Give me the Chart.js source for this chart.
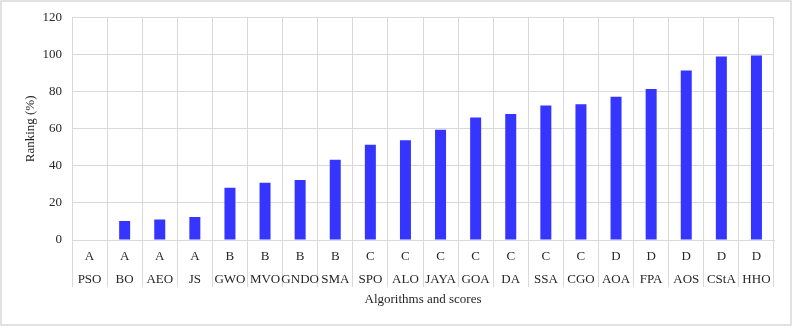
<!DOCTYPE html>
<html>
<head>
<meta charset="utf-8">
<script src="https://cdn.jsdelivr.net/npm/chart.js@4"></script>
<style>
html,body{margin:0;padding:0;background:#fff;}
#wrap{width:793px;height:327px;position:relative;}
</style>
</head>
<body>
<div id="wrap"><canvas id="c" width="793" height="327"></canvas></div>
<script>
const algorithms = ['PSO','BO','AEO','JS','GWO','MVO','GNDO','SMA','SPO','ALO','JAYA','GOA','DA','SSA','CGO','AOA','FPA','AOS','CStA','HHO'];
const scores = ['A','A','A','A','B','B','B','B','C','C','C','C','C','C','C','D','D','D','D','D'];
const ranking = [0,10.2,11.1,12.4,28.2,30.9,32.4,43.3,51.4,53.9,59.6,66.1,68.0,72.7,73.3,77.4,81.5,91.6,99.1,99.7];
const yTicks = [0,20,40,60,80,100,120];

const FONT = 'Liberation Serif, Times New Roman, serif';
const GRID = '#d9d9d9';
const TXT = '#262626';

const frame = {
  id: 'frame',
  beforeDraw(chart) {
    const ctx = chart.ctx;
    ctx.save();
    ctx.fillStyle = '#fff';
    ctx.fillRect(0, 0, chart.width, chart.height);
    ctx.strokeStyle = GRID;
    ctx.lineWidth = 1.5;
    ctx.strokeRect(1, 1, chart.width - 3, chart.height - 3);
    ctx.restore();
  }
};

new Chart(document.getElementById('c'), {
  type: 'bar',
  data: {
    labels: algorithms.map((a, i) => [scores[i], a]),
    datasets: [{
      data: ranking,
      backgroundColor: '#3535ff',
      borderWidth: 0,
      inflateAmount: 0,
      barThickness: 11
    }]
  },
  options: {
    responsive: false,
    animation: false,
    devicePixelRatio: 1,
    layout: { padding: { left: 0, right: 19, top: 17, bottom: 0 } },
    plugins: { legend: { display: false }, tooltip: { enabled: false } },
    scales: {
      x: {
        offset: true,
        grid: { display: true, offset: true, color: GRID, lineWidth: 1, drawTicks: true, tickLength: 47, tickColor: GRID },
        border: { display: true, color: GRID },
        ticks: {
          autoSkip: false, maxRotation: 0, minRotation: 0,
          color: TXT, padding: -42,
          font: { family: FONT, size: 13, lineHeight: 1.77 }
        },
        title: {
          display: true, text: 'Algorithms and scores', color: TXT,
          font: { family: FONT, size: 13 }, padding: { top: 0, bottom: 20 }
        },
        afterFit(scale) { scale.height = 87; }
      },
      y: {
        min: 0, max: 120,
        afterBuildTicks(scale) { scale.ticks = yTicks.map(v => ({ value: v })); },
        grid: { color: GRID, lineWidth: 1, drawTicks: false },
        border: { display: false },
        ticks: { color: TXT, padding: 10, font: { family: FONT, size: 13 } },
        title: {
          display: true, text: 'Ranking (%)', color: TXT,
          font: { family: FONT, size: 13 }, padding: { top: 23, bottom: 0 }
        },
        afterFit(scale) { scale.width = 72; }
      }
    }
  },
  plugins: [frame]
});
</script>
</body>
</html>
